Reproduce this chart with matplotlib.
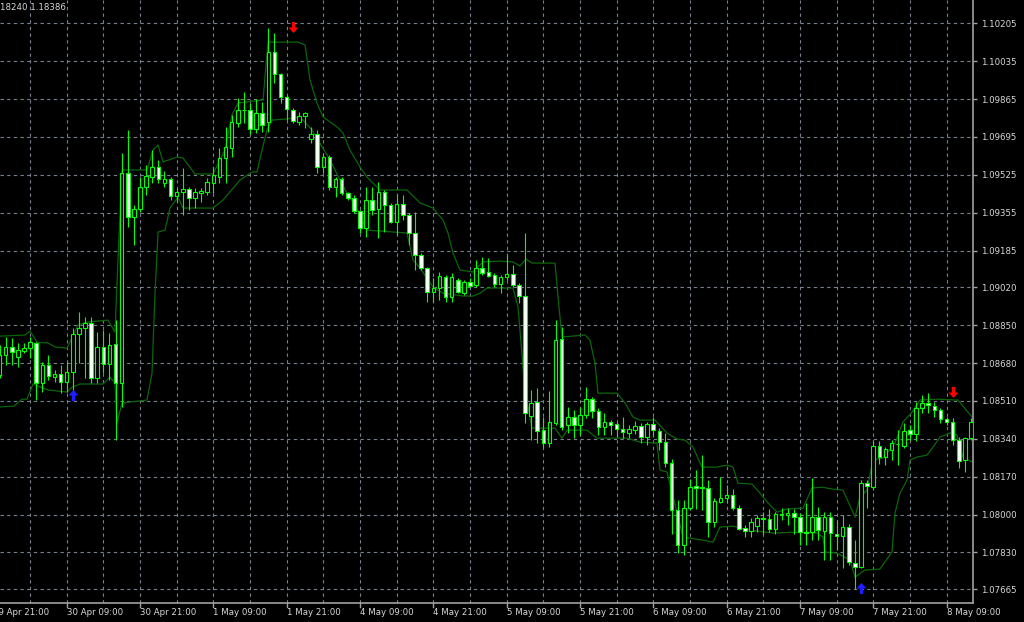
import numpy as np
import matplotlib.pyplot as plt
from matplotlib.path import Path
from matplotlib.transforms import blended_transform_factory

# ----------------------------
# 1. Data (EURUSD H1)
# ----------------------------

opens = [
    1.08626, 1.08716, 1.08753, 1.08708, 1.08735, 1.08747, 1.08769, 1.08589, 1.08671, 1.08619,
    1.08631, 1.08596, 1.08638, 1.08809, 1.08836, 1.08858, 1.08614, 1.08753, 1.08676, 1.08764,
    1.08589, 1.09535, 1.09334, 1.09370, 1.09472, 1.09517, 1.09562, 1.09487, 1.09505, 1.09430,
    1.09447, 1.09461, 1.09420, 1.09445, 1.09449, 1.09490, 1.09517, 1.09599, 1.09644, 1.09759,
    1.09816, 1.09816, 1.09729, 1.09804, 1.09764, 1.10075, 1.09976, 1.09873, 1.09816, 1.09764,
    1.09789, 1.09685, 1.09707, 1.09562, 1.09606, 1.09472, 1.09505, 1.09442, 1.09422, 1.09364,
    1.09285, 1.09412, 1.09370, 1.09449, 1.09390, 1.09315, 1.09393, 1.09345, 1.09262, 1.09165,
    1.09105, 1.09000, 1.09016, 1.09068, 1.08978, 1.09053, 1.08996, 1.09042, 1.09030, 1.09105,
    1.09087, 1.09075, 1.09035, 1.09068, 1.09080, 1.09030, 1.08982, 1.08442, 1.08506, 1.08379,
    1.08320, 1.08412, 1.08787, 1.08402, 1.08436, 1.08402, 1.08447, 1.08517, 1.08465, 1.08394,
    1.08414, 1.08406, 1.08384, 1.08367, 1.08379, 1.08397, 1.08347, 1.08405, 1.08376, 1.08327,
    1.08232, 1.08020, 1.07863, 1.08028, 1.08128, 1.08125, 1.08120, 1.07965, 1.08055, 1.08075,
    1.08087, 1.08030, 1.07938, 1.07927, 1.07948, 1.07983, 1.07978, 1.07935, 1.08002, 1.07998,
    1.08005, 1.07990, 1.07920, 1.07920, 1.07990, 1.07927, 1.07987, 1.07915, 1.07902, 1.07945,
    1.07784, 1.07766, 1.08140, 1.08122, 1.08307, 1.08257, 1.08289, 1.08317, 1.08307, 1.08379,
    1.08361, 1.08477, 1.08502, 1.08489, 1.08469, 1.08427, 1.08415, 1.08334, 1.08245, 1.08342,
]

highs = [
    1.08761, 1.08797, 1.08794, 1.08770, 1.08770, 1.08798, 1.08775, 1.08686, 1.08716, 1.08649,
    1.08671, 1.08686, 1.08836, 1.08910, 1.08888, 1.08888, 1.08818, 1.08828, 1.08813, 1.08873,
    1.09622, 1.09726, 1.09390, 1.09517, 1.09569, 1.09636, 1.09592, 1.09544, 1.09517, 1.09465,
    1.09554, 1.09472, 1.09465, 1.09465, 1.09509, 1.09562, 1.09644, 1.09741, 1.09794, 1.09871,
    1.09898, 1.09846, 1.09865, 1.09853, 1.10183, 1.10160, 1.09981, 1.09883, 1.09824, 1.09808,
    1.09808, 1.09741, 1.09726, 1.09622, 1.09614, 1.09517, 1.09517, 1.09449, 1.09434, 1.09367,
    1.09472, 1.09472, 1.09491, 1.09457, 1.09397, 1.09434, 1.09434, 1.09355, 1.09359, 1.09173,
    1.09113, 1.09060, 1.09090, 1.09075, 1.09083, 1.09060, 1.09053, 1.09060, 1.09143, 1.09157,
    1.09150, 1.09083, 1.09075, 1.09165, 1.09120, 1.09038, 1.09262, 1.08559, 1.08567, 1.08439,
    1.08556, 1.08873, 1.08840, 1.08481, 1.08469, 1.08484, 1.08574, 1.08529, 1.08479, 1.08454,
    1.08424, 1.08417, 1.08436, 1.08402, 1.08421, 1.08409, 1.08417, 1.08439, 1.08387, 1.08366,
    1.08248, 1.08065, 1.08065, 1.08158, 1.08200, 1.08267, 1.08155, 1.08073, 1.08170, 1.08132,
    1.08113, 1.08043, 1.07953, 1.07983, 1.07998, 1.08012, 1.08023, 1.08012, 1.08028, 1.08029,
    1.08023, 1.08005, 1.08050, 1.08162, 1.08035, 1.08012, 1.08012, 1.07975, 1.07998, 1.07957,
    1.07885, 1.08155, 1.08155, 1.08334, 1.08331, 1.08304, 1.08334, 1.08379, 1.08409, 1.08402,
    1.08506, 1.08536, 1.08544, 1.08506, 1.08477, 1.08439, 1.08432, 1.08349, 1.08349, 1.08432,
]

lows = [
    1.08613, 1.08671, 1.08671, 1.08664, 1.08725, 1.08703, 1.08514, 1.08551, 1.08604, 1.08596,
    1.08544, 1.08551, 1.08529, 1.08679, 1.08613, 1.08589, 1.08589, 1.08634, 1.08604, 1.08334,
    1.08484, 1.09292, 1.09210, 1.09359, 1.09434, 1.09487, 1.09487, 1.09472, 1.09412, 1.09404,
    1.09345, 1.09367, 1.09375, 1.09404, 1.09434, 1.09442, 1.09487, 1.09487, 1.09606, 1.09741,
    1.09759, 1.09708, 1.09714, 1.09719, 1.09719, 1.09936, 1.09846, 1.09771, 1.09756, 1.09749,
    1.09734, 1.09667, 1.09532, 1.09532, 1.09457, 1.09427, 1.09434, 1.09412, 1.09352, 1.09262,
    1.09247, 1.09345, 1.09240, 1.09270, 1.09307, 1.09255, 1.09322, 1.09210, 1.09098, 1.09098,
    1.08955, 1.08955, 1.08963, 1.08955, 1.08955, 1.08993, 1.08985, 1.09023, 1.09023, 1.09075,
    1.09068, 1.09023, 1.08993, 1.09053, 1.09023, 1.08950, 1.08409, 1.08334, 1.08320, 1.08304,
    1.08304, 1.08402, 1.08379, 1.08364, 1.08342, 1.08357, 1.08432, 1.08432, 1.08357, 1.08357,
    1.08357, 1.08349, 1.08342, 1.08342, 1.08361, 1.08320, 1.08312, 1.08349, 1.08289, 1.08215,
    1.07915, 1.07826, 1.07818, 1.08020, 1.08023, 1.08020, 1.07900, 1.07945, 1.08050, 1.08050,
    1.08020, 1.07930, 1.07900, 1.07900, 1.07923, 1.07915, 1.07923, 1.07915, 1.07975, 1.07953,
    1.07915, 1.07863, 1.07863, 1.07885, 1.07885, 1.07796, 1.07796, 1.07840, 1.07762, 1.07773,
    1.07665, 1.07758, 1.08028, 1.08110, 1.08227, 1.08222, 1.08245, 1.08222, 1.08297, 1.08334,
    1.08331, 1.08454, 1.08454, 1.08439, 1.08412, 1.08402, 1.08312, 1.08207, 1.08192, 1.08334,
]

closes = [
    1.08716, 1.08752, 1.08728, 1.08738, 1.08749, 1.08774, 1.08592, 1.08671, 1.08622, 1.08631,
    1.08596, 1.08638, 1.08809, 1.08836, 1.08858, 1.08614, 1.08753, 1.08676, 1.08761, 1.08592,
    1.09532, 1.09334, 1.09370, 1.09469, 1.09520, 1.09562, 1.09505, 1.09505, 1.09430, 1.09449,
    1.09461, 1.09420, 1.09449, 1.09454, 1.09491, 1.09523, 1.09599, 1.09651, 1.09761, 1.09816,
    1.09817, 1.09729, 1.09804, 1.09749, 1.10075, 1.09976, 1.09873, 1.09819, 1.09768, 1.09789,
    1.09801, 1.09707, 1.09562, 1.09606, 1.09472, 1.09505, 1.09442, 1.09422, 1.09364, 1.09285,
    1.09412, 1.09367, 1.09449, 1.09390, 1.09315, 1.09393, 1.09345, 1.09262, 1.09165, 1.09105,
    1.09000, 1.09018, 1.09071, 1.08975, 1.09068, 1.09000, 1.09042, 1.09027, 1.09105, 1.09086,
    1.09072, 1.09035, 1.09068, 1.09080, 1.09030, 1.08982, 1.08457, 1.08502, 1.08376, 1.08320,
    1.08414, 1.08783, 1.08394, 1.08436, 1.08402, 1.08445, 1.08517, 1.08465, 1.08391, 1.08414,
    1.08402, 1.08384, 1.08369, 1.08384, 1.08397, 1.08347, 1.08405, 1.08379, 1.08327, 1.08232,
    1.08020, 1.07863, 1.08028, 1.08125, 1.08120, 1.08118, 1.07965, 1.08060, 1.08073, 1.08086,
    1.08030, 1.07935, 1.07927, 1.07968, 1.07983, 1.07978, 1.07935, 1.08001, 1.08000, 1.08008,
    1.07990, 1.07920, 1.07918, 1.07990, 1.07930, 1.07990, 1.07918, 1.07903, 1.07945, 1.07787,
    1.07766, 1.08140, 1.08128, 1.08307, 1.08257, 1.08293, 1.08320, 1.08316, 1.08376, 1.08361,
    1.08477, 1.08502, 1.08492, 1.08469, 1.08427, 1.08415, 1.08334, 1.08241, 1.08342, 1.08417,
]

# channel indicator, vertices as (bar index, price)
upper_idx = [0.08, 4.17, 4.99, 6.14, 7.94, 9.08, 11.05, 12.85, 14.32, 17.76, 18.90, 19.39, 20.05,
             24.14, 25.12, 25.94, 26.76, 29.05, 30.03, 31.99, 34.94, 36.9, 38.05, 39.03, 43.13,
             43.94, 48.85, 50.0, 50.82, 51.96, 52.95, 55.24, 56.22, 57.36, 59.0, 60.15, 62.27,
             66.69, 68.82, 70.95, 72.59, 73.40, 74.22, 75.37, 77.5, 79.13, 81.91, 84.04, 85.19,
             86.17, 87.15, 90.92, 91.41, 92.06, 95.83, 96.64, 97.46, 97.95, 101.06, 102.37,
             103.68, 104.83, 107.28, 109.25, 110.88, 112.19, 113.50, 114.97, 117.43, 119.07,
             120.05, 120.87, 123.16, 124.47, 125.78, 127.25, 128.89, 131.51, 132.98, 134.62,
             136.42, 138.05, 140.02, 140.83, 141.98, 142.96, 144.6, 146.56, 147.87, 149.35,
             150.65, 153.44, 156.87, 159.17]
upper_val = [1.08801, 1.08806, 1.08824, 1.08774, 1.08770, 1.08752, 1.08747, 1.08851, 1.08864,
             1.08873, 1.08819, 1.09143, 1.09547, 1.09547, 1.09636, 1.09659, 1.09583, 1.09605,
             1.09601, 1.09529, 1.09529, 1.09636, 1.09794, 1.09848, 1.09861, 1.10121, 1.10121,
             1.10108, 1.09951, 1.09848, 1.09785, 1.09740, 1.09713, 1.09636, 1.09560, 1.09515,
             1.09457, 1.09457, 1.09399, 1.09376, 1.09322, 1.09264, 1.09174, 1.09098, 1.09089,
             1.09134, 1.09138, 1.09134, 1.09116, 1.09147, 1.09129, 1.09129, 1.08976, 1.08797,
             1.08806, 1.08783, 1.08680, 1.08545, 1.08545, 1.08501, 1.08438, 1.08424, 1.08424,
             1.08366, 1.08339, 1.08334, 1.08303, 1.08213, 1.08213, 1.08222, 1.08213, 1.08141,
             1.08137, 1.08096, 1.08052, 1.08011, 1.08025, 1.08029, 1.08119, 1.08123, 1.08114,
             1.08110, 1.07989, 1.08078, 1.08110, 1.08245, 1.08254, 1.08321, 1.08415, 1.08460,
             1.08514, 1.08518, 1.08514, 1.08438]

lower_idx = [0.08, 2.37, 3.68, 4.5, 5.48, 7.94, 11.05, 11.87, 13.18, 16.94, 18.08, 18.9, 19.23,
             20.05, 24.14, 24.96, 25.45, 25.94, 27.09, 27.9, 29.21, 30.03, 34.94, 36.58, 39.36,
             41.33, 42.14, 42.96, 43.78, 44.6, 47.05, 49.18, 51.15, 54.09, 56.55, 58.18, 60.15,
             66.69, 67.68, 68.82, 70.95, 72.59, 75.86, 77.5, 78.64, 79.79, 84.04, 84.86, 86.0,
             87.15, 90.92, 92.06, 92.88, 96.15, 97.79, 102.7, 104.83, 107.61, 108.1, 109.25,
             111.87, 115.14, 116.78, 117.92, 120.05, 122.83, 126.6, 130.52, 133.8, 134.78,
             135.11, 137.07, 139.2, 140.02, 141.65, 144.08, 146.07, 146.56, 147.38, 148.53,
             149.02, 150.16, 151.8, 152.78, 153.93, 155.56, 156.71, 157.69, 159.17]
lower_val = [1.08483, 1.08487, 1.08518, 1.08518, 1.08586, 1.08559, 1.08550, 1.08572, 1.08586,
             1.08586, 1.08617, 1.08590, 1.08411, 1.08501, 1.08514, 1.08635, 1.08994, 1.09268,
             1.09277, 1.09376, 1.09425, 1.09376, 1.09376, 1.09412, 1.09502, 1.09538, 1.09538,
             1.09636, 1.09726, 1.09771, 1.09776, 1.09785, 1.09726, 1.09592, 1.09457, 1.09390,
             1.09277, 1.09264, 1.09143, 1.09107, 1.09021, 1.08994, 1.08981, 1.08981, 1.08994,
             1.09017, 1.09017, 1.08932, 1.08559, 1.08388, 1.08388, 1.08343, 1.08379, 1.08379,
             1.08343, 1.08343, 1.08325, 1.08321, 1.08200, 1.08191, 1.07899, 1.07885, 1.07876,
             1.07944, 1.07948, 1.07930, 1.07917, 1.07921, 1.07917, 1.07899, 1.07832, 1.07827,
             1.07796, 1.07719, 1.07751, 1.07755, 1.07832, 1.08007, 1.08096, 1.08155, 1.08245,
             1.08258, 1.08267, 1.08303, 1.08348, 1.08366, 1.08357, 1.08258, 1.08236]

# signal arrows
sell_idx = [48, 156]
sell_val = [1.10189, 1.08550]
buy_idx = [12, 141]
buy_val = [1.08536, 1.07670]

# price scale and time scale labels
y_ticks = [1.10205, 1.10035, 1.09865, 1.09695, 1.09525, 1.09355, 1.09185, 1.09020,
           1.08850, 1.08680, 1.08510, 1.08340, 1.08170, 1.08000, 1.07830, 1.07665]
x_label_idx = [-1, 11, 23, 35, 47, 59, 71, 83, 95, 107, 119, 131, 143, 155]
x_labels = ["29 Apr 21:00", "30 Apr 09:00", "30 Apr 21:00", "1 May 09:00", "1 May 21:00",
            "4 May 09:00", "4 May 21:00", "5 May 09:00", "5 May 21:00", "6 May 09:00",
            "6 May 21:00", "7 May 09:00", "7 May 21:00", "8 May 09:00"]

# ----------------------------
# 2. Plot
# ----------------------------

plt.rcParams['font.family'] = ['DejaVu Sans']
W, H = 1024, 622
fig = plt.figure(figsize=(W / 100, H / 100), dpi=100, facecolor='black')
ax = fig.add_axes([0, 19 / H, 973 / W, 603 / H])
ax.set_facecolor('black')

o = np.array(opens)
h = np.array(highs)
l = np.array(lows)
c = np.array(closes)
x = np.arange(len(o))

lime = '#00FF00'
ax.vlines(x, l, h, color=lime, linewidth=0.8, zorder=3)
bull = c >= o
ax.bar(x[bull], c[bull] - o[bull], bottom=o[bull], width=0.58,
       color='black', edgecolor=lime, linewidth=0.8, zorder=4)
ax.bar(x[~bull], o[~bull] - c[~bull], bottom=c[~bull], width=0.58,
       color='white', edgecolor=lime, linewidth=0.8, zorder=4)

ax.plot(upper_idx, upper_val, color='#0B650B', linewidth=0.9, zorder=2)
ax.plot(lower_idx, lower_val, color='#0B650B', linewidth=0.9, zorder=2)

down_arrow = Path([(-0.15, 0.5), (0.15, 0.5), (0.15, 0.0), (0.45, 0.0), (0.0, -0.5),
                   (-0.45, 0.0), (-0.15, 0.0), (-0.15, 0.5)])
up_arrow = Path([(-0.15, -0.5), (0.15, -0.5), (0.15, 0.0), (0.45, 0.0), (0.0, 0.5),
                 (-0.45, 0.0), (-0.15, 0.0), (-0.15, -0.5)])
ax.plot(sell_idx, sell_val, linestyle='none', marker=down_arrow, markersize=8,
        color='red', markeredgewidth=0, zorder=5)
ax.plot(buy_idx, buy_val, linestyle='none', marker=up_arrow, markersize=8,
        color='#1E1EFF', markeredgewidth=0, zorder=5)

ax.set_xlim(0.08, 159.33)
ax.set_ylim(1.07603, 1.10310)

# grid
grid_col = '#77808C'
for gx in range(5, 160, 6):
    ax.axvline(gx, color=grid_col, linewidth=0.8, linestyle=(0, (3, 3)), zorder=1)
for gy in y_ticks:
    ax.axhline(gy, color=grid_col, linewidth=0.8, linestyle=(0, (3, 3)), zorder=1)

# spines
for s in ['top', 'left']:
    ax.spines[s].set_visible(False)
for s in ['right', 'bottom']:
    ax.spines[s].set_color('#A0A0A0')
    ax.spines[s].set_linewidth(1.2)

# price axis
ax.yaxis.tick_right()
ax.set_yticks(y_ticks)
ax.set_yticklabels([f"{v:.5f}" for v in y_ticks])
ax.tick_params(axis='y', colors='#A0A0A0', labelcolor='#D8D8D8', length=3,
               width=1, pad=3, labelsize=6.2)

# time axis
ax.set_xticks([])
trans = blended_transform_factory(ax.transData, ax.transAxes)
for xi, lab in zip(x_label_idx, x_labels):
    ax.plot([xi, xi], [0, -0.006], transform=trans, color='#A0A0A0',
            linewidth=1, clip_on=False)
    ax.text(xi, -0.015, lab, transform=trans, ha='left', va='center',
            color='#D8D8D8', fontsize=6.2, clip_on=False)

fig.text(0, 1 - 7 / H, "18240 1.18386", color='#D8D8D8', fontsize=6.2,
         ha='left', va='center')

fig.savefig('out.png', dpi=100, facecolor='black')
